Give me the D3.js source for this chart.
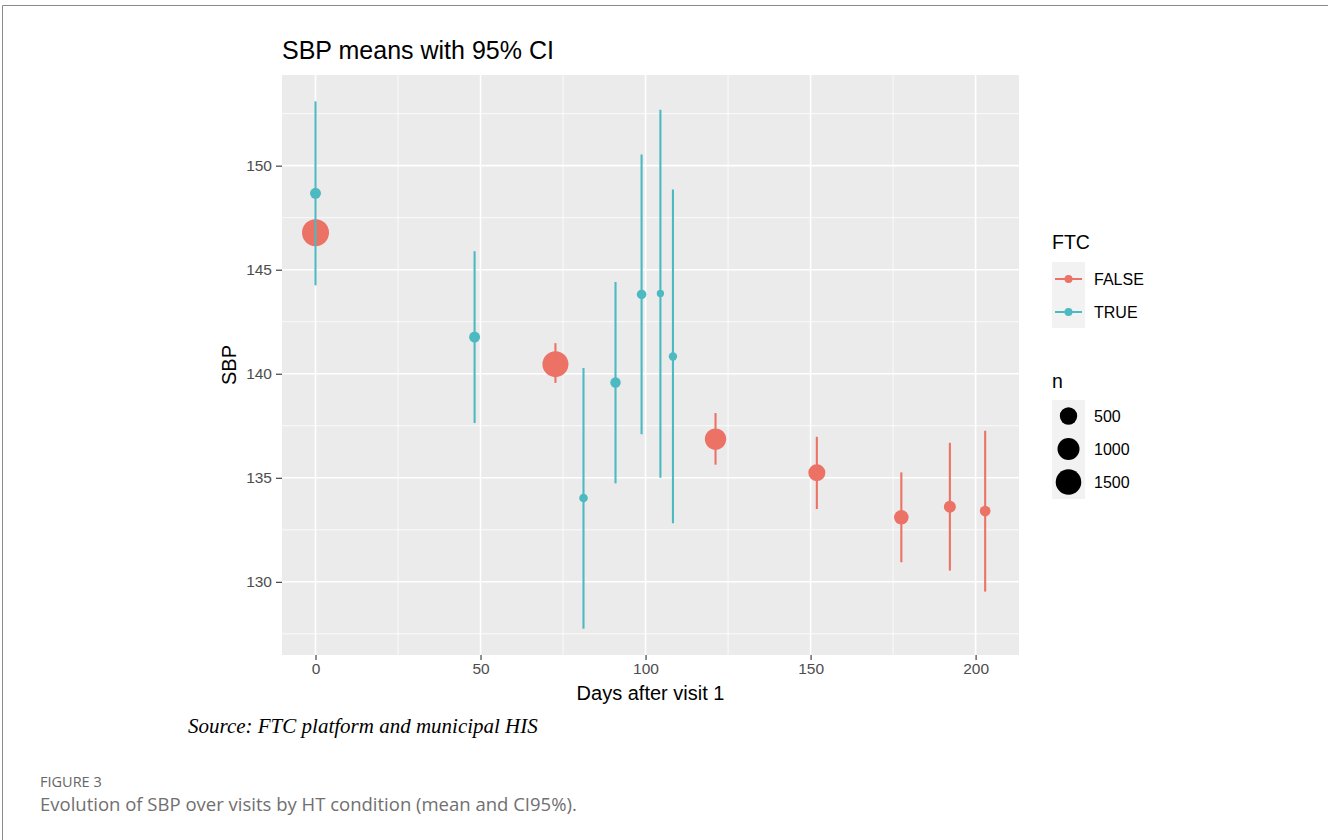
<!DOCTYPE html>
<html><head><meta charset="utf-8">
<script src="https://cdn.jsdelivr.net/npm/d3@7"></script>
<style>body{margin:0;background:#fff;} svg{display:block;}</style>
</head><body>
<script>
// ---- data ----
const groups = ["FALSE", "TRUE"];
const falseDays = [0, 72.7, 121.2, 151.9, 177.5, 192.2, 202.9];
const falseMean = [146.78, 140.46, 136.86, 135.24, 133.10, 133.61, 133.40];
const falseLow  = [146.2, 139.56, 135.63, 133.50, 130.94, 130.54, 129.53];
const falseHigh = [147.4, 141.47, 138.11, 136.97, 135.26, 136.68, 137.26];
const falseN    = [1730, 1570, 920, 470, 280, 135, 80];
const trueDays = [0, 48.2, 81.2, 90.9, 98.8, 104.5, 108.3];
const trueMean = [148.67, 141.76, 134.03, 139.58, 143.81, 143.86, 140.83];
const trueLow  = [144.25, 137.63, 127.75, 134.73, 137.09, 135.0, 132.81];
const trueHigh = [153.09, 145.89, 140.27, 144.41, 150.54, 152.69, 148.85];
const trueN    = [92, 92, 23, 71, 46, 5, 19];
const xTicks = [0, 50, 100, 150, 200];
const yTicks = [130, 135, 140, 145, 150];
const sizeLegend = [500, 1000, 1500];

const colors = {"FALSE": "#EC7266", "TRUE": "#4DBAC2"};

const rows = [];
falseDays.forEach((d, i) => rows.push({g: "FALSE", x: d, m: falseMean[i], lo: falseLow[i], hi: falseHigh[i], n: falseN[i]}));
trueDays.forEach((d, i) => rows.push({g: "TRUE", x: d, m: trueMean[i], lo: trueLow[i], hi: trueHigh[i], n: trueN[i]}));

const W = 1328, H = 840;
const svg = d3.select("body").append("svg").attr("width", W).attr("height", H);

// frame lines
svg.append("line").attr("x1", 2.5).attr("x2", W).attr("y1", 5.5).attr("y2", 5.5).attr("stroke", "#8a8a8a").attr("stroke-width", 1);
svg.append("line").attr("x1", 2.5).attr("x2", 2.5).attr("y1", 5.5).attr("y2", H).attr("stroke", "#8a8a8a").attr("stroke-width", 1);

const P = {l: 282, r: 1019, t: 75, b: 655};
const xMin = 0, xMax = 203, yMin = 127.75, yMax = 153.09;
const xe = (xMax - xMin) * 0.05, ye = (yMax - yMin) * 0.05;
const x = d3.scaleLinear().domain([xMin - xe, xMax + xe]).range([P.l, P.r]);
const y = d3.scaleLinear().domain([yMin - ye, yMax + ye]).range([P.b, P.t]);
const r = d3.scalePow().exponent(0.5).domain([0, 2000]).range([3.1, 14.28]);

svg.append("rect").attr("x", P.l).attr("y", P.t).attr("width", P.r - P.l).attr("height", P.b - P.t).attr("fill", "#EBEBEB");

const g = svg.append("g");
// minor grid
const xMinor = xTicks.slice(0, -1).map((t, i) => (t + xTicks[i + 1]) / 2);
const yMinor = [127.5].concat(yTicks.map(t => t + 2.5));
g.selectAll(".xmin").data(xMinor).join("line").attr("x1", d => x(d)).attr("x2", d => x(d)).attr("y1", P.t).attr("y2", P.b).attr("stroke", "#fff").attr("stroke-width", 0.8);
g.selectAll(".ymin").data(yMinor).join("line").attr("y1", d => y(d)).attr("y2", d => y(d)).attr("x1", P.l).attr("x2", P.r).attr("stroke", "#fff").attr("stroke-width", 0.8);
g.selectAll(".xmaj").data(xTicks).join("line").attr("x1", d => x(d)).attr("x2", d => x(d)).attr("y1", P.t).attr("y2", P.b).attr("stroke", "#fff").attr("stroke-width", 1.6);
g.selectAll(".ymaj").data(yTicks).join("line").attr("y1", d => y(d)).attr("y2", d => y(d)).attr("x1", P.l).attr("x2", P.r).attr("stroke", "#fff").attr("stroke-width", 1.6);

const font = "Liberation Sans, Arial, sans-serif";
// axes
const xAxis = svg.append("g").attr("transform", `translate(0,${P.b})`).call(d3.axisBottom(x).tickValues(xTicks).tickSize(5).tickPadding(3));
const yAxis = svg.append("g").attr("transform", `translate(${P.l},0)`).call(d3.axisLeft(y).tickValues(yTicks).tickSize(6).tickPadding(4));
[xAxis, yAxis].forEach(a => {
  a.select(".domain").remove();
  a.selectAll(".tick line").attr("stroke", "#333").attr("stroke-width", 1.1);
  a.selectAll("text").attr("fill", "#4D4D4D").attr("font-size", 15.5).attr("font-family", font);
});

// points
svg.append("g").selectAll("circle").data(rows).join("circle")
  .attr("cx", d => x(d.x)).attr("cy", d => y(d.m)).attr("r", d => r(d.n)).attr("fill", d => colors[d.g]);
// error bars
svg.append("g").selectAll("line").data(rows).join("line")
  .attr("x1", d => x(d.x)).attr("x2", d => x(d.x)).attr("y1", d => y(d.lo)).attr("y2", d => y(d.hi))
  .attr("stroke", d => colors[d.g]).attr("stroke-width", 2.1);

svg.append("text").attr("x", P.l).attr("y", 59).text("SBP means with 95% CI").attr("font-size", 25).attr("font-family", font).attr("fill", "#000");
svg.append("text").attr("x", (P.l + P.r) / 2).attr("y", 700).attr("text-anchor", "middle").text("Days after visit 1").attr("font-size", 20).attr("font-family", font);
svg.append("text").attr("transform", `translate(236,${(P.t + P.b) / 2}) rotate(-90)`).attr("text-anchor", "middle").text("SBP").attr("font-size", 20).attr("font-family", font);

// legend FTC
const L = svg.append("g");
L.append("text").attr("x", 1052).attr("y", 249).text("FTC").attr("font-size", 19.5).attr("font-family", font);
L.append("rect").attr("x", 1052).attr("y", 262).attr("width", 33).attr("height", 66).attr("fill", "#F2F2F2");
groups.forEach((gname, i) => {
  const cy = 279 + i * 33;
  L.append("line").attr("x1", 1055).attr("x2", 1082).attr("y1", cy).attr("y2", cy).attr("stroke", colors[gname]).attr("stroke-width", 2);
  L.append("circle").attr("cx", 1068.5).attr("cy", cy).attr("r", 4).attr("fill", colors[gname]);
  L.append("text").attr("x", 1094).attr("y", cy + 6).text(gname).attr("font-size", 16).attr("font-family", font);
});
// legend n
L.append("text").attr("x", 1052).attr("y", 388).text("n").attr("font-size", 19.5).attr("font-family", font);
L.append("rect").attr("x", 1052).attr("y", 400).attr("width", 33).attr("height", 99).attr("fill", "#F2F2F2");
sizeLegend.forEach((v, i) => {
  const cy = 416 + i * 33;
  L.append("circle").attr("cx", 1068.5).attr("cy", cy).attr("r", r(v)).attr("fill", "#000");
  L.append("text").attr("x", 1094).attr("y", cy + 6).text(v).attr("font-size", 16).attr("font-family", font);
});

// source & caption
svg.append("text").attr("x", 188).attr("y", 733).text("Source: FTC platform and municipal HIS")
  .attr("font-size", 21).attr("font-style", "italic").attr("font-family", "Liberation Serif, Times New Roman, serif");
svg.append("text").attr("x", 40).attr("y", 787).text("FIGURE 3").attr("font-size", 14.5).attr("fill", "#666").attr("font-family", "Open Sans, sans-serif");
svg.append("text").attr("x", 40).attr("y", 811).text("Evolution of SBP over visits by HT condition (mean and CI95%).").attr("font-size", 18.5).attr("fill", "#707070").attr("font-family", "Open Sans, sans-serif");
</script>
</body></html>
